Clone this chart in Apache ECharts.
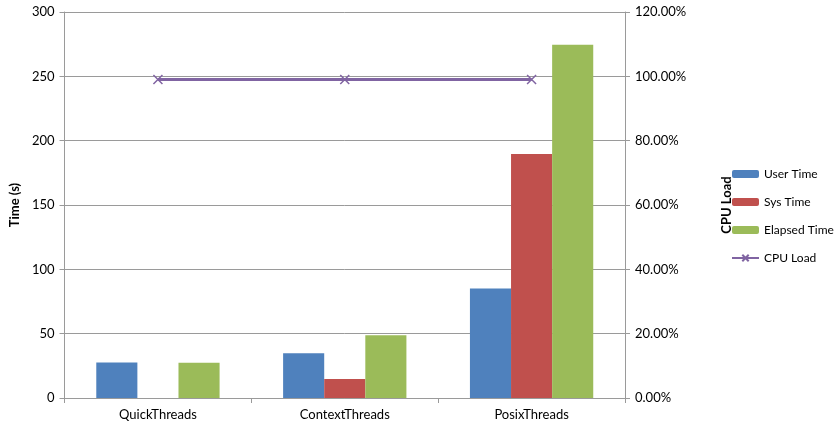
<!DOCTYPE html>
<html>
<head>
<meta charset="utf-8">
<script src="https://cdn.jsdelivr.net/npm/echarts@6/dist/echarts.min.js"></script>
<style>
  html, body { margin: 0; padding: 0; background: #fff; }
  #chart { width: 835px; height: 427px; }
</style>
</head>
<body>
<div id="chart"></div>
<script>
// categories
var categories = ['QuickThreads', 'ContextThreads', 'PosixThreads'];
// bar values (seconds)
var userTime = [27.5, 34.7, 85.2];
var sysTime = [0, 14.8, 189.6];
var elapsedTime = [27.4, 48.7, 274.5];
// cpu load (fraction)
var cpuLoad = [0.99, 0.99, 0.99];

var font = 'Lato';
var grey = '#9a9a9a';

var chart = echarts.init(document.getElementById('chart'));

var option = {
  animation: false,
  textStyle: { fontFamily: font },
  grid: { left: 63, right: 210, top: 12, bottom: 29 },
  legend: {
    orient: 'vertical',
    left: 731,
    top: 168,
    padding: 0,
    itemWidth: 27,
    itemHeight: 8,
    itemGap: 16,
    itemTextGap: 1,
    textStyle: { fontSize: 12, color: '#000', fontFamily: font },
    data: ['User Time', 'Sys Time', 'Elapsed Time', 'CPU Load']
  },
  xAxis: {
    type: 'category',
    data: categories,
    axisLine: { lineStyle: { color: grey } },
    axisTick: { show: true, length: 5, lineStyle: { color: grey } },
    axisLabel: { color: '#000', fontSize: 13, margin: 10 }
  },
  yAxis: [
    {
      type: 'value',
      name: 'Time (s)',
      nameLocation: 'middle',
      nameGap: 39,
      nameRotate: 90,
      nameTextStyle: { fontWeight: 'bold', fontSize: 13, color: '#000' },
      min: 0, max: 300, interval: 50,
      axisLine: { show: true, lineStyle: { color: grey } },
      axisTick: { show: true, length: 5, lineStyle: { color: grey } },
      axisLabel: { color: '#000', fontSize: 13, margin: 10 },
      splitLine: { lineStyle: { color: grey } }
    },
    {
      type: 'value',
      name: 'CPU Load',
      nameLocation: 'middle',
      nameGap: 95,
      nameRotate: 90,
      nameTextStyle: { fontWeight: 'bold', fontSize: 13, color: '#000' },
      min: 0, max: 1.2, interval: 0.2,
      axisLine: { show: true, lineStyle: { color: grey } },
      axisTick: { show: true, length: 5, lineStyle: { color: grey } },
      axisLabel: {
        color: '#000', fontSize: 13, margin: 10,
        formatter: function (v) { return (v * 100).toFixed(2) + '%'; }
      },
      splitLine: { show: false }
    }
  ],
  series: [
    {
      name: 'User Time', type: 'bar', data: userTime,
      itemStyle: { color: '#4F81BD' },
      barGap: '0%', barCategoryGap: '34%'
    },
    {
      name: 'Sys Time', type: 'bar', data: sysTime,
      itemStyle: { color: '#C0504D' }
    },
    {
      name: 'Elapsed Time', type: 'bar', data: elapsedTime,
      itemStyle: { color: '#9BBB59' }
    },
    {
      name: 'CPU Load', type: 'line', yAxisIndex: 1, data: cpuLoad,
      symbol: 'path://M0,0L10,10M10,0L0,10',
      symbolSize: 9,
      lineStyle: { color: '#8064A2', width: 3 },
      itemStyle: { color: 'transparent', borderColor: '#8064A2', borderWidth: 1.5 }
    }
  ]
};

chart.setOption(option);
</script>
</body>
</html>
